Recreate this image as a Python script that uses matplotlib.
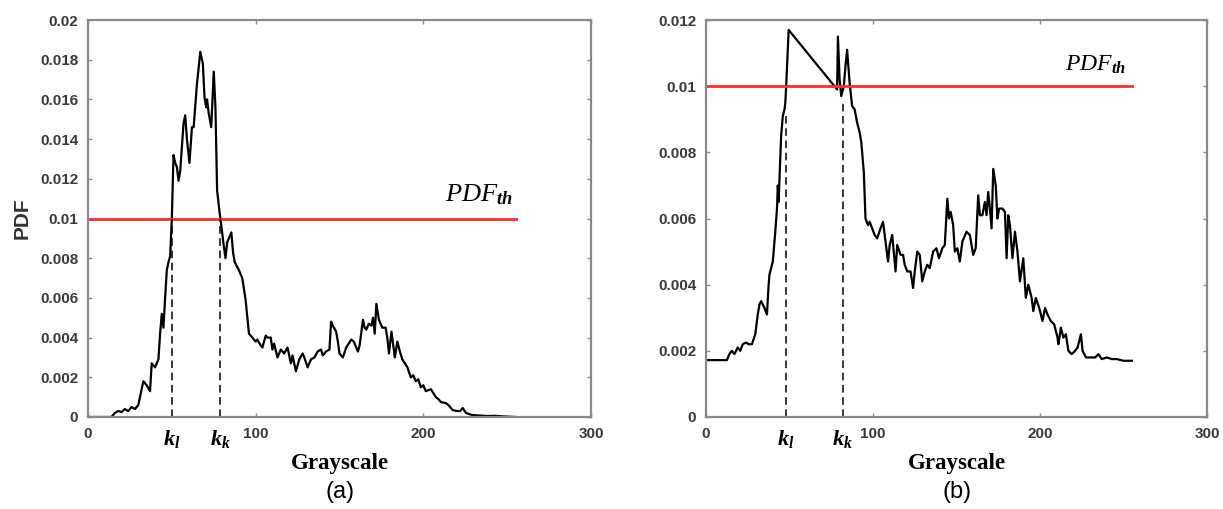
import matplotlib
matplotlib.use("Agg")
import matplotlib.pyplot as plt
from matplotlib.ticker import FuncFormatter, MultipleLocator

gris_a = [0, 14, 16, 18, 20, 22, 24, 26, 28, 30, 31, 33, 35, 37, 38, 40, 42, 43, 44, 45,
          46, 47, 48, 49, 50, 51, 52, 53, 54, 55, 57, 58, 59, 60.5, 62, 63, 65, 67, 68.5, 69.5,
          70.5, 71, 72, 73.5, 75, 76, 77, 78.5, 79, 81, 82, 83, 85.5, 86.5, 87.5, 90, 92, 94, 96, 98,
          100, 101, 103, 104, 106, 107, 109, 110, 111, 113, 115, 117, 119, 121, 122, 124, 126, 128, 129, 131,
          133, 135, 137, 139, 140, 142, 144, 145, 146, 148, 149, 150, 152, 154, 155.5, 157, 158.5, 161, 162, 164,
          165, 166, 167.5, 169, 170, 171, 172, 173.5, 175.5, 177.5, 178.5, 179.5, 181, 183, 184.5, 186, 187.5, 189, 190.5, 192.5,
          194, 195.5, 197, 198.5, 200, 201.5, 204.5, 206, 207.5, 209, 210.5, 213.5, 215, 217.5, 220, 222, 223.5, 225.5, 229, 233,
          238, 243, 248, 255]
pdf_a = [0, 0, 0.0002, 0.0003, 0.00025, 0.0004, 0.0003, 0.0005, 0.0004, 0.0006, 0.0010, 0.0018, 0.0016, 0.0013, 0.0027, 0.0025, 0.0029, 0.0042, 0.0052, 0.0045,
         0.0060, 0.0074, 0.0078, 0.0081, 0.0100, 0.0132, 0.0128, 0.0126, 0.0119, 0.0124, 0.0148, 0.0152, 0.0140, 0.0128, 0.0146, 0.0146, 0.0168, 0.0184, 0.0178, 0.0161,
         0.0156, 0.0160, 0.0153, 0.0146, 0.0174, 0.0156, 0.0114, 0.0103, 0.0100, 0.0086, 0.0080, 0.0088, 0.0093, 0.0083, 0.0078, 0.0074, 0.0070, 0.0059, 0.0042, 0.0040,
         0.0038, 0.0039, 0.0036, 0.0035, 0.0041, 0.0040, 0.0040, 0.0034, 0.0037, 0.0030, 0.0034, 0.0032, 0.0035, 0.0027, 0.0031, 0.0023, 0.0029, 0.0032, 0.0030, 0.0025,
         0.0029, 0.0030, 0.0033, 0.0034, 0.0031, 0.0033, 0.0034, 0.0048, 0.0046, 0.0043, 0.0038, 0.0032, 0.0030, 0.0035, 0.0037, 0.0039, 0.0038, 0.0033, 0.0036, 0.0049,
         0.0045, 0.0044, 0.0047, 0.0046, 0.0050, 0.0042, 0.0057, 0.0049, 0.0045, 0.0045, 0.0040, 0.0032, 0.0043, 0.0030, 0.0038, 0.0033, 0.0029, 0.0027, 0.0025, 0.0020,
         0.0021, 0.0018, 0.0019, 0.0015, 0.0016, 0.0013, 0.0014, 0.0012, 0.0010, 0.0009, 0.00075, 0.0007, 0.0006, 0.00035, 0.0003, 0.0003, 0.00045, 0.0002, 0.0001, 0.00008,
         0.00005, 0.00006, 0.00003, 0.0]

# curva (b)
gris_b = [0, 12.5, 14, 15.5, 17, 19, 20.5, 22, 24, 25.5, 27.5, 29.5, 31, 32, 33, 35, 36.5, 37.5, 38, 39,
          40, 41.5, 42.5, 43, 43.5, 44, 45, 46, 47, 47.5, 48, 49.5, 78.5, 79, 80, 81, 82.5, 83.5, 84.5, 86,
          87.5, 89, 90.5, 92, 93, 94.5, 95.5, 97, 98, 99.5, 101, 102.5, 104.5, 106, 107.5, 109, 110, 111.5, 113.5, 114.5,
          116.5, 118, 119, 120.5, 122.5, 124, 125, 126.5, 128, 129.5, 131, 132.5, 134, 136, 138, 139.5, 141.5, 143, 144.5, 145.5,
          146.5, 148, 149, 150.5, 152, 153.5, 156, 158, 160, 161.5, 163, 164, 165.5, 167, 168, 169, 170, 171, 172, 173.5,
          174.5, 175.5, 177.5, 179, 180, 181, 182, 183.5, 185, 186.5, 188, 190, 191.5, 193, 195, 196, 197.5, 199.5, 201.5, 203,
          204.5, 206.5, 208.5, 210.5, 211, 212.5, 214, 215.5, 217, 219, 221, 222.5, 224.5, 225.5, 227.5, 231, 233, 235, 237, 240,
          243, 246, 250, 255]
pdf_b = [0.00172, 0.00172, 0.0019, 0.0020, 0.0019, 0.0021, 0.0020, 0.0022, 0.00225, 0.0022, 0.0022, 0.0025, 0.0031, 0.0034, 0.0035, 0.0033, 0.0031, 0.0040, 0.0043, 0.0045,
         0.0047, 0.0056, 0.0063, 0.0070, 0.0065, 0.0072, 0.0085, 0.0091, 0.0093, 0.0095, 0.0100, 0.0117, 0.0099, 0.0115, 0.0102, 0.0097, 0.0100, 0.0106, 0.0111, 0.0101,
         0.0094, 0.0093, 0.0089, 0.0086, 0.0083, 0.0074, 0.0060, 0.0058, 0.0059, 0.0057, 0.0055, 0.0054, 0.0057, 0.0059, 0.0053, 0.0047, 0.0052, 0.0055, 0.0044, 0.0052,
         0.0049, 0.0049, 0.0046, 0.0044, 0.0044, 0.0039, 0.0044, 0.0050, 0.0049, 0.0041, 0.0044, 0.0046, 0.0045, 0.0050, 0.0051, 0.0048, 0.0051, 0.0052, 0.0066, 0.0060,
         0.0062, 0.0058, 0.0050, 0.0051, 0.0047, 0.0053, 0.0056, 0.0055, 0.0049, 0.0051, 0.0067, 0.0061, 0.0061, 0.0065, 0.0061, 0.0068, 0.0063, 0.0057, 0.0075, 0.0070,
         0.0060, 0.0063, 0.0063, 0.0062, 0.0048, 0.0061, 0.0058, 0.0048, 0.0056, 0.0050, 0.0041, 0.0048, 0.0036, 0.0040, 0.0036, 0.0032, 0.0036, 0.0033, 0.0029, 0.0033,
         0.0031, 0.0029, 0.0028, 0.0024, 0.0022, 0.0027, 0.0024, 0.0025, 0.0020, 0.0019, 0.0020, 0.0021, 0.0025, 0.0020, 0.0018, 0.0018, 0.0018, 0.0019, 0.00175, 0.0018,
         0.00175, 0.00175, 0.0017, 0.0017]

umbral_a = 0.01
umbral_b = 0.01
k_a = [50, 79]          # k_l, k_h en (a)
k_top_a = [0.0100, 0.0100]
k_b = [48, 82]
k_top_b = [0.0091, 0.0095]
k_labels = [r"$\mathbfit{k}_{\mathbfit{l}}$", r"$\mathbfit{k}_{\mathbfit{k}}$"]

plt.rcParams["font.family"] = ["Liberation Sans", "DejaVu Sans"]
plt.rcParams["mathtext.fontset"] = "custom"
plt.rcParams["mathtext.it"] = "Liberation Serif:italic"
plt.rcParams["mathtext.rm"] = "Liberation Serif"
plt.rcParams["mathtext.bfit"] = "Liberation Serif:italic:bold"

fig = plt.figure(figsize=(12.23, 5.09), dpi=100)
ax_a = fig.add_axes([88 / 1223, 1 - 417 / 509, 503 / 1223, 397 / 509])
ax_b = fig.add_axes([706 / 1223, 1 - 417 / 509, 501 / 1223, 397 / 509])

fmt = FuncFormatter(lambda v, p: "%g" % round(v, 4))


def estilo(ax, ymax, ystep):
    ax.set_xlim(0, 300)
    ax.set_ylim(0, ymax)
    ax.xaxis.set_major_locator(MultipleLocator(100))
    ax.yaxis.set_major_locator(MultipleLocator(ystep))
    ax.yaxis.set_major_formatter(fmt)
    for s in ax.spines.values():
        s.set_color("#8a8a8a")
        s.set_linewidth(1.6)
    ax.tick_params(direction="in", length=3, width=1, color="#8a8a8a",
                   top=True, right=True, labelsize=11, labelcolor="#3a3a3a", pad=7)
    for lab in ax.get_xticklabels() + ax.get_yticklabels():
        lab.set_fontweight("bold")
    ax.set_xlabel("Grayscale", fontfamily="Liberation Serif", fontweight="bold",
                  fontsize=16.5, labelpad=9)


def panel(ax, gris, pdf, umbral, ks, ktops, th_xy, th_size):
    ax.plot(gris, pdf, color="black", lw=1.6)
    ax.plot([0, 255], [umbral, umbral], color="#ff2a2a", lw=2)
    ax.vlines(ks, 0, ktops, colors="black", linestyles=(0, (5, 3)), lw=1.1)
    for k, lab in zip(ks, k_labels):
        ax.annotate(lab, xy=(k, 0), xycoords=("data", "axes fraction"),
                    xytext=(0, -8), textcoords="offset points",
                    ha="center", va="top", fontsize=16)
    ax.text(th_xy[0], th_xy[1], r"$PDF_{\mathbfit{th}}$", fontsize=th_size,
            ha="left", va="bottom")


estilo(ax_a, 0.02, 0.002)
estilo(ax_b, 0.012, 0.002)
panel(ax_a, gris_a, pdf_a, umbral_a, k_a, k_top_a, (213, 0.0106), 19)
panel(ax_b, gris_b, pdf_b, umbral_b, k_b, k_top_b, (215, 0.0103), 17)

ax_a.set_ylabel("PDF", fontsize=15, fontweight="bold", color="#333333", labelpad=6)

fig.text(340 / 1223, 1 - 492 / 509, "(a)", fontsize=17, ha="center", va="center")
fig.text(957 / 1223, 1 - 492 / 509, "(b)", fontsize=17, ha="center", va="center")

fig.savefig("out.png", dpi=100)
